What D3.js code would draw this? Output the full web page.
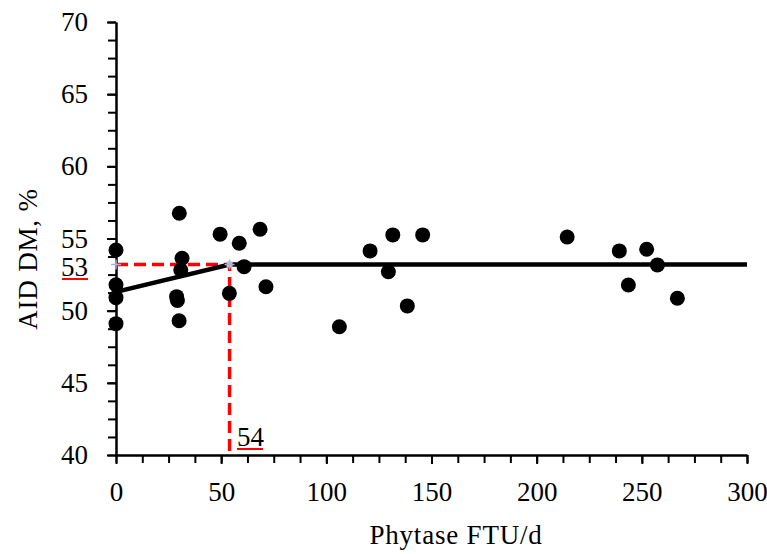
<!DOCTYPE html>
<html lang="en">
<head>
  <meta charset="UTF-8">
  <title>AID DM vs Phytase</title>
  <style>
    body { margin: 0; background: #fff; }
    svg { display: block; }
    .axis text { font-family: "Liberation Serif", "DejaVu Serif", serif; font-size: 27px; fill: #000; }
    .axis path, .axis line { stroke: #000; stroke-width: 2; }
  </style>
</head>
<body>
  <svg class="chart"></svg>
  <script src="https://cdn.jsdelivr.net/npm/d3@7"></script>
  <script>
    var w = 767,
        h = 554,
        fontFamily = '"Liberation Serif", "DejaVu Serif", serif',
        fontSize = 27;

    // observed points (phytase FTU/d, AID DM %)
    var phytase = [0, 0, 0, 0,
                   30.1, 31.4, 30.8, 28.8, 29.2, 30.0,
                   49.5, 53.9, 58.6, 60.9, 68.5, 71.3,
                   106.2, 120.8, 129.5, 131.6, 138.5, 145.8,
                   214.5, 239.3, 243.6, 252.3, 257.4, 266.9];
    var aidDM = [54.2, 51.8, 50.9, 49.1,
                 56.75, 53.63, 52.82, 50.97, 50.7, 49.3,
                 55.3, 51.2, 54.67, 53.05, 55.64, 51.66,
                 48.89, 54.14, 52.7, 55.25, 50.33, 55.25,
                 55.1, 54.14, 51.78, 54.26, 53.17, 50.86];

    // broken-line fit
    var fitX = [0, 54, 300],
        fitY = [51.3, 53.2, 53.2];
    var breakX = 54, breakY = 53.2;
    var breakLabels = ["53", "54"];

    var xTicks = [0, 50, 100, 150, 200, 250, 300],
        yTicks = [40, 45, 50, 55, 60, 65, 70];

    var x = d3.scaleLinear().domain([0, 300]).range([116, 747]);
    var y = d3.scaleLinear().domain([40, 70]).range([455, 22]);

    var svg = d3.select(".chart")
      .attr("width", w)
      .attr("height", h);

    // minor ticks
    svg.append("g")
      .attr("class", "axis")
      .attr("transform", "translate(0," + y(40) + ")")
      .call(d3.axisBottom(x).tickValues(d3.range(0, 300.1, 12.5)).tickSize(8).tickFormat("").tickSizeOuter(0));
    svg.append("g")
      .attr("class", "axis")
      .attr("transform", "translate(" + x(0) + ",0)")
      .call(d3.axisLeft(y).tickValues(d3.range(40, 70.1, 1.25)).tickSize(8).tickFormat("").tickSizeOuter(0));

    // major ticks with labels
    svg.append("g")
      .attr("class", "axis")
      .attr("transform", "translate(0," + y(40) + ")")
      .call(d3.axisBottom(x).tickValues(xTicks).tickSize(9).tickPadding(18).tickSizeOuter(0));
    svg.append("g")
      .attr("class", "axis")
      .attr("transform", "translate(" + x(0) + ",0)")
      .call(d3.axisLeft(y).tickValues(yTicks).tickSize(9).tickPadding(19).tickSizeOuter(0));
    svg.selectAll(".axis text").attr("font-family", null).attr("font-size", null);

    // red dashed guides to breakpoint
    svg.append("path")
      .attr("d", "M" + x(0) + "," + y(breakY) + "H" + x(breakX) + "V" + y(40))
      .attr("fill", "none")
      .attr("stroke", "#ff0000")
      .attr("stroke-width", 3.5)
      .attr("stroke-dasharray", "12,6");

    // fitted line
    var line = d3.line().x((d, i) => x(fitX[i])).y((d, i) => y(fitY[i]));
    svg.append("path")
      .datum(fitX)
      .attr("d", line)
      .attr("fill", "none")
      .attr("stroke", "#000")
      .attr("stroke-width", 4.5);

    // small grey end markers of fit segments
    svg.selectAll("rect.mk")
      .data([0, 1])
      .enter()
      .append("rect")
        .attr("class", "mk")
        .attr("x", d => x(fitX[d]) - (d === 0 ? 5 : 3))
        .attr("y", d => y(fitY[d]) - 3)
        .attr("width", 6)
        .attr("height", 6)
        .attr("fill", "#c0c0c0");

    // light blue plus markers at dashed guide ends
    [[0, breakY], [breakX, breakY]].forEach(function (p) {
      var cx = x(p[0]), cy = y(p[1]);
      svg.append("path")
        .attr("d", "M" + (cx - 5) + "," + cy + "H" + (cx + 5) + "M" + cx + "," + (cy - 5) + "V" + (cy + 5))
        .attr("stroke", "#9fb4e0")
        .attr("stroke-width", 1.5);
    });

    // data points
    svg.selectAll("circle")
      .data(phytase)
      .enter()
      .append("circle")
        .attr("cx", d => x(d))
        .attr("cy", (d, i) => y(aidDM[i]))
        .attr("r", 7.5)
        .attr("fill", "#000");

    // underlined breakpoint labels
    svg.append("text")
      .text(breakLabels[0])
      .attr("x", 88)
      .attr("y", 276)
      .attr("text-anchor", "end")
      .attr("font-family", fontFamily)
      .attr("font-size", fontSize);
    svg.append("line")
      .attr("x1", 62).attr("x2", 88)
      .attr("y1", 279).attr("y2", 279)
      .attr("stroke", "#ff0000").attr("stroke-width", 2);

    svg.append("text")
      .text(breakLabels[1])
      .attr("x", 237)
      .attr("y", 446)
      .attr("font-family", fontFamily)
      .attr("font-size", fontSize);
    svg.append("line")
      .attr("x1", 237).attr("x2", 263)
      .attr("y1", 449).attr("y2", 449)
      .attr("stroke", "#ff0000").attr("stroke-width", 2);

    // axis titles
    svg.append("text")
      .text("Phytase FTU/d")
      .attr("x", 456)
      .attr("y", 544)
      .attr("text-anchor", "middle")
      .attr("font-family", fontFamily)
      .attr("font-size", fontSize)
      .attr("letter-spacing", 0.8);

    svg.append("text")
      .text("AID DM, %")
      .attr("transform", "translate(37,259) rotate(-90)")
      .attr("text-anchor", "middle")
      .attr("font-family", fontFamily)
      .attr("font-size", fontSize)
      .attr("letter-spacing", 0.8);
  </script>
</body>
</html>
